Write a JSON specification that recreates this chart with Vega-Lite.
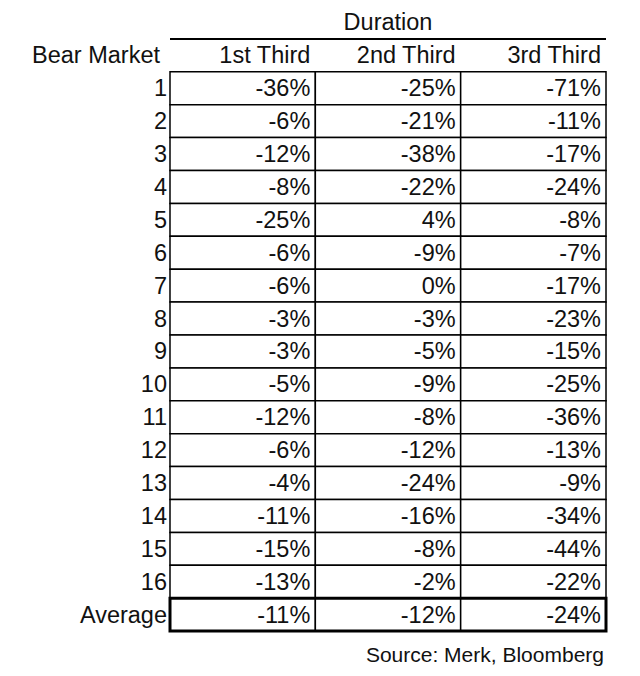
{
  "$schema": "https://vega.github.io/schema/vega-lite/v6.json",
  "width": 640,
  "height": 676,
  "autosize": {"type": "none"},
  "padding": 0,
  "background": "white",
  "config": {
    "view": {"stroke": null},
    "text": {"font": "Liberation Sans", "fontSize": 23.5, "color": "#111", "baseline": "middle"}
  },
  "datasets": {
    "cells": [
      {"market": "1", "period": "1st Third", "value": -36},
      {"market": "1", "period": "2nd Third", "value": -25},
      {"market": "1", "period": "3rd Third", "value": -71},
      {"market": "2", "period": "1st Third", "value": -6},
      {"market": "2", "period": "2nd Third", "value": -21},
      {"market": "2", "period": "3rd Third", "value": -11},
      {"market": "3", "period": "1st Third", "value": -12},
      {"market": "3", "period": "2nd Third", "value": -38},
      {"market": "3", "period": "3rd Third", "value": -17},
      {"market": "4", "period": "1st Third", "value": -8},
      {"market": "4", "period": "2nd Third", "value": -22},
      {"market": "4", "period": "3rd Third", "value": -24},
      {"market": "5", "period": "1st Third", "value": -25},
      {"market": "5", "period": "2nd Third", "value": 4},
      {"market": "5", "period": "3rd Third", "value": -8},
      {"market": "6", "period": "1st Third", "value": -6},
      {"market": "6", "period": "2nd Third", "value": -9},
      {"market": "6", "period": "3rd Third", "value": -7},
      {"market": "7", "period": "1st Third", "value": -6},
      {"market": "7", "period": "2nd Third", "value": 0},
      {"market": "7", "period": "3rd Third", "value": -17},
      {"market": "8", "period": "1st Third", "value": -3},
      {"market": "8", "period": "2nd Third", "value": -3},
      {"market": "8", "period": "3rd Third", "value": -23},
      {"market": "9", "period": "1st Third", "value": -3},
      {"market": "9", "period": "2nd Third", "value": -5},
      {"market": "9", "period": "3rd Third", "value": -15},
      {"market": "10", "period": "1st Third", "value": -5},
      {"market": "10", "period": "2nd Third", "value": -9},
      {"market": "10", "period": "3rd Third", "value": -25},
      {"market": "11", "period": "1st Third", "value": -12},
      {"market": "11", "period": "2nd Third", "value": -8},
      {"market": "11", "period": "3rd Third", "value": -36},
      {"market": "12", "period": "1st Third", "value": -6},
      {"market": "12", "period": "2nd Third", "value": -12},
      {"market": "12", "period": "3rd Third", "value": -13},
      {"market": "13", "period": "1st Third", "value": -4},
      {"market": "13", "period": "2nd Third", "value": -24},
      {"market": "13", "period": "3rd Third", "value": -9},
      {"market": "14", "period": "1st Third", "value": -11},
      {"market": "14", "period": "2nd Third", "value": -16},
      {"market": "14", "period": "3rd Third", "value": -34},
      {"market": "15", "period": "1st Third", "value": -15},
      {"market": "15", "period": "2nd Third", "value": -8},
      {"market": "15", "period": "3rd Third", "value": -44},
      {"market": "16", "period": "1st Third", "value": -13},
      {"market": "16", "period": "2nd Third", "value": -2},
      {"market": "16", "period": "3rd Third", "value": -22},
      {"market": "Average", "period": "1st Third", "value": -11},
      {"market": "Average", "period": "2nd Third", "value": -12},
      {"market": "Average", "period": "3rd Third", "value": -24}
    ],
    "rows": [
      {"market": "1"}, {"market": "2"}, {"market": "3"}, {"market": "4"},
      {"market": "5"}, {"market": "6"}, {"market": "7"}, {"market": "8"},
      {"market": "9"}, {"market": "10"}, {"market": "11"}, {"market": "12"},
      {"market": "13"}, {"market": "14"}, {"market": "15"}, {"market": "16"},
      {"market": "Average"}
    ],
    "headers": [
      {"period": "1st Third"}, {"period": "2nd Third"}, {"period": "3rd Third"}
    ]
  },
  "layer": [
    {
      "data": {"name": "cells"},
      "mark": {"type": "rect", "fill": "white", "stroke": "black", "strokeWidth": 1.5},
      "encoding": {
        "x": {
          "field": "period",
          "type": "nominal",
          "axis": null,
          "scale": {
            "type": "band",
            "domain": ["1st Third", "2nd Third", "3rd Third"],
            "range": [170, 606],
            "paddingInner": 0,
            "paddingOuter": 0
          }
        },
        "y": {
          "field": "market",
          "type": "nominal",
          "axis": null,
          "scale": {
            "type": "band",
            "domain": ["Duration", "Bear Market", "1", "2", "3", "4", "5", "6", "7", "8", "9", "10", "11", "12", "13", "14", "15", "16", "Average", "Source"],
            "range": [6, 664],
            "paddingInner": 0,
            "paddingOuter": 0
          }
        }
      }
    },
    {
      "data": {"name": "cells"},
      "transform": [{"calculate": "datum.value + '%'", "as": "label"}],
      "mark": {"type": "text", "align": "right", "dx": -5, "dy": 1},
      "encoding": {
        "x": {"field": "period", "type": "nominal", "bandPosition": 1},
        "y": {"field": "market", "type": "nominal"},
        "text": {"field": "label"}
      }
    },
    {
      "data": {"name": "rows"},
      "mark": {"type": "text", "align": "right", "dx": -3, "dy": 1},
      "encoding": {
        "x": {"datum": "1st Third", "bandPosition": 0},
        "y": {"field": "market", "type": "nominal"},
        "text": {"field": "market"}
      }
    },
    {
      "data": {"name": "headers"},
      "mark": {"type": "text", "align": "right", "dx": -5, "dy": 1},
      "encoding": {
        "x": {"field": "period", "type": "nominal", "bandPosition": 1},
        "y": {"datum": "Bear Market"},
        "text": {"field": "period"}
      }
    },
    {
      "data": {"values": [{"label": "Bear Market"}]},
      "mark": {"type": "text", "align": "right", "dx": -10, "dy": 1},
      "encoding": {
        "x": {"datum": "1st Third", "bandPosition": 0},
        "y": {"datum": "Bear Market"},
        "text": {"field": "label"}
      }
    },
    {
      "data": {"values": [{"label": "Duration"}]},
      "mark": {"type": "text", "align": "center", "dy": 1},
      "encoding": {
        "x": {"datum": "2nd Third"},
        "y": {"datum": "Duration"},
        "text": {"field": "label"}
      }
    },
    {
      "data": {"values": [{"label": "line"}]},
      "mark": {"type": "rule", "stroke": "black", "strokeWidth": 2},
      "encoding": {
        "x": {"datum": "1st Third", "bandPosition": 0},
        "x2": {"datum": "3rd Third", "bandPosition": 1},
        "y": {"datum": "Bear Market", "bandPosition": 0}
      }
    },
    {
      "data": {"values": [{"label": "avg"}]},
      "mark": {"type": "rect", "fill": null, "stroke": "black", "strokeWidth": 3},
      "encoding": {
        "x": {"datum": "1st Third", "bandPosition": 0},
        "x2": {"datum": "3rd Third", "bandPosition": 1},
        "y": {"datum": "Average"}
      }
    },
    {
      "data": {"values": [{"label": "Source: Merk, Bloomberg"}]},
      "mark": {"type": "text", "align": "right", "fontSize": 21, "dx": -2, "dy": 8},
      "encoding": {
        "x": {"datum": "3rd Third", "bandPosition": 1},
        "y": {"datum": "Source"},
        "text": {"field": "label"}
      }
    }
  ]
}
